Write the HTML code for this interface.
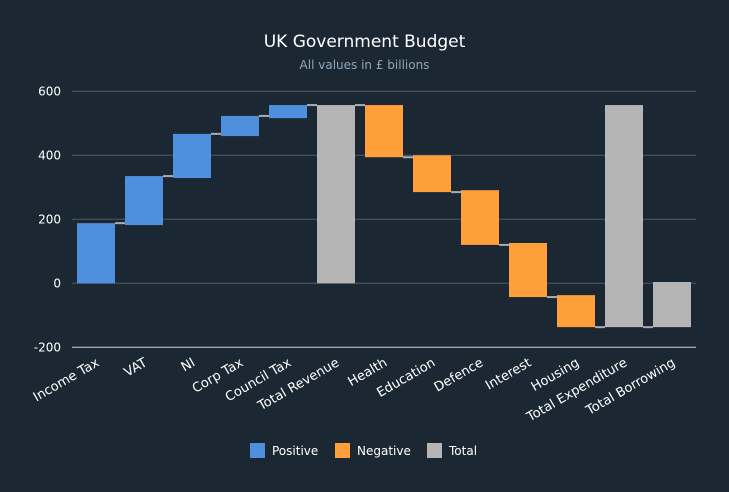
<!DOCTYPE html>
<html><head><meta charset="utf-8"><style>
body{margin:0;background:#1b2733;}
svg{display:block;font-family:"DejaVu Sans","Liberation Sans",sans-serif;}
</style></head><body>
<svg id="chart" width="729" height="492" xmlns="http://www.w3.org/2000/svg">
<rect width="729" height="492" fill="#1b2733"/>
<text x="364.5" y="47" text-anchor="middle" fill="#ffffff" font-size="17">UK Government Budget</text>
<text x="364.5" y="69" text-anchor="middle" fill="#8fa6bb" font-size="12">All values in £ billions</text>
<g id="grid"></g><g id="bars"></g><g id="xlabels"></g>
<g>
<rect x="250" y="443" width="15" height="15" fill="#4f90de"/>
<text x="272" y="455" fill="#fff" font-size="12">Positive</text>
<rect x="335" y="443" width="15" height="15" fill="#ff9f3a"/>
<text x="357" y="455" fill="#fff" font-size="12">Negative</text>
<rect x="427" y="443" width="15" height="15" fill="#b5b5b5"/>
<text x="449" y="455" fill="#fff" font-size="12">Total</text>
</g>
</svg>
<script>
const categories=["Income Tax","VAT","NI","Corp Tax","Council Tax","Total Revenue","Health","Education","Defence","Interest","Housing","Total Expenditure","Total Borrowing"];
const barStart=[0,182,329,460,516,0,557,400,291,126,-37,557,4];
const barEnd=[188,335,467,523,557,557,394,285,120,-43,-137,-137,-137];
const barType=["pos","pos","pos","pos","pos","total","neg","neg","neg","neg","neg","total","total"];
const yTicks=[600,400,200,0,-200];
const NS="http://www.w3.org/2000/svg";
const y0=283.3,k=0.32,x0=72,step=48,bw=38;
const Y=v=>y0-v*k, X=i=>x0+step*i+step/2;
const colors={pos:"#4f90de",neg:"#ff9f3a",total:"#b5b5b5"};
function mk(t,a,p){const e=document.createElementNS(NS,t);for(const n in a)e.setAttribute(n,a[n]);p.appendChild(e);return e;}
const g=document.getElementById("grid");
yTicks.forEach(v=>{
 const l=mk("line",{x1:x0,x2:696,y1:Y(v),y2:Y(v),stroke:v===-200?"#d0d4da":"#4e5a6a","stroke-width":1},g);
 
 
 const t=mk("text",{x:61,y:Y(v)+4,"text-anchor":"end",fill:"#fff","font-size":12},g);
 t.textContent=v;
 
 
});
const b=document.getElementById("bars");
categories.forEach((c,i)=>{
 if(i<categories.length-1){
  const cl=mk("line",{x1:X(i)+bw/2,x2:X(i+1)-bw/2,y1:Y(barEnd[i]),y2:Y(barEnd[i]),stroke:"#a9adb2","stroke-width":2},b);
  
  
 }
 const top=Math.max(barStart[i],barEnd[i]),bot=Math.min(barStart[i],barEnd[i]);
 const r=mk("rect",{x:X(i)-bw/2,y:Y(top),width:bw,height:(top-bot)*k,fill:colors[barType[i]]},b);
 
 
 const t=mk("text",{x:X(i)+4,y:365,"text-anchor":"end",fill:"#fff","font-size":13,transform:`rotate(-30 ${X(i)+4} 365)`},document.getElementById("xlabels"));
 t.textContent=c;
 
 
});
</script>
</body></html>
